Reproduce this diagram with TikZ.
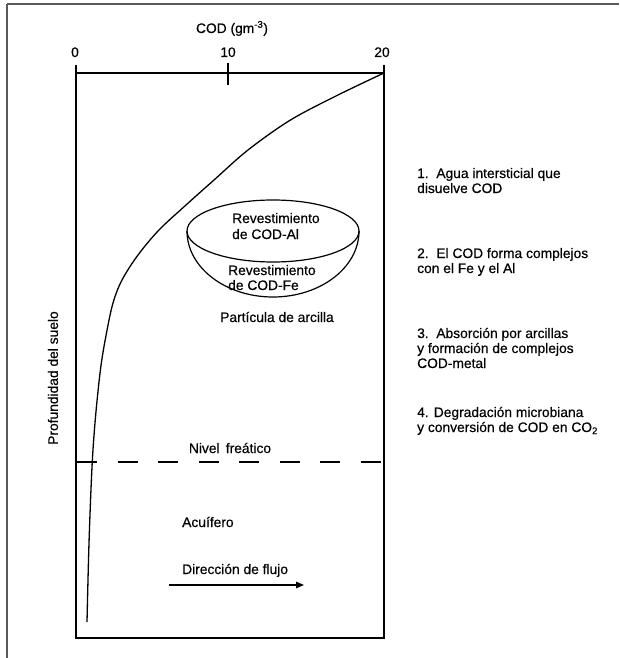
\documentclass[tikz,border=0pt]{standalone}
\usepackage{fontspec}
% slightly heavier Helvetica-like face for all labels
\setmainfont{Liberation Sans}[BoldFont={Liberation Sans}, BoldFeatures={FakeBold=0.4}]
\usetikzlibrary{arrows.meta}

\begin{document}
\begin{tikzpicture}[x=1pt,y=-1pt,
    lbl/.style={inner sep=0pt, font=\fontsize{13.8}{15}\selectfont\bfseries, align=left},
    frameline/.style={draw=black!65, line width=1.4pt},
    axisline/.style={draw=black, line width=1.3pt},
    flowarrow/.style={line width=1.2pt, -{Triangle[length=8pt,width=6.5pt]}}]

  % page extent
  \useasboundingbox (0,0) rectangle (619,658);
  \fill[white] (0,0) rectangle (619,658);

  % outer frame (top and left edges)
  \draw[frameline] (7,4) -- (619,4);
  \draw[frameline] (7,4) -- (7,658);

  % plot box with COD axis on top
  \draw[axisline] (76,65) -- (76,638) -- (384,638) -- (384,65);
  \draw[axisline] (76,73) -- (384,73);
  \draw[axisline] (228,63) -- (228,85);

  % axis labels
  \node[lbl, anchor=base] (codlbl) at (232,33) {COD (gm\textsuperscript{-3})};
  \node[lbl, anchor=base] (t0)  at (75,57)  {0};
  \node[lbl, anchor=base] (t10) at (228,57) {10};
  \node[lbl, anchor=base] (t20) at (382,57) {20};

  % depth label
  \node[lbl, rotate=90, anchor=center] (depth) at (53,378) {Profundidad del suelo};

  % COD concentration profile with depth
  \draw[line width=1.3pt] plot[smooth, tension=0.55] coordinates
    {(384,73) (338,95) (290.5,120) (248,150) (214,180) (186,205) (159,230)
     (138,255) (122,280) (113,303) (106.5,333) (100.8,367) (95.5,417) (92,467)
     (89,543) (87,622)};

  % water table
  \draw[line width=1.2pt, dash pattern=on 20pt off 20.5pt] (77,462) -- (384,462);
  \node[lbl, anchor=base] (nivel) at (230,453) {Nivel\hspace{0.45em}freático};

  % clay particle with coatings
  \draw[line width=1.2pt] (273,231) ellipse [x radius=86pt, y radius=31pt];
  \draw[line width=1.2pt] (187,231) arc[start angle=180, end angle=360, x radius=86pt, y radius=66pt];
  % multi-line labels are anchored at the baseline of their last line
  \node[lbl, anchor=base west] (coatAl) at (232,239) {Revestimiento\\[1pt]de COD-Al};
  \node[lbl, anchor=base west] (coatFe) at (228,290) {Revestimiento\\de COD-Fe};
  \node[lbl, anchor=base] (clay) at (277,322) {Partícula de arcilla};

  % aquifer and flow direction
  \node[lbl, anchor=base west] (aquifer) at (182,527) {Acuífero};
  \node[lbl, anchor=base west] (flowlbl) at (182,574) {Dirección de flujo};
  \coordinate (flowA) at (169,585);
  \coordinate (flowB) at (304,585);
  \draw[flowarrow] (flowA) -- (flowB);

  % process list
  \node[lbl, anchor=base west] (p1) at (417,193) {1.\ \ Agua intersticial que\\disuelve COD};
  \node[lbl, anchor=base west] (p2) at (417,273) {2.\ \ El COD forma complejos\\con el Fe y el Al};
  \node[lbl, anchor=base west] (p3) at (417,368) {3.\ \ Absorción por arcillas\\y formación de complejos\\COD-metal};
  \node[lbl, anchor=base west] (p4) at (417,432) {4. Degradación microbiana\\y conversión de COD en CO\textsubscript{2}};
\end{tikzpicture}
\end{document}
